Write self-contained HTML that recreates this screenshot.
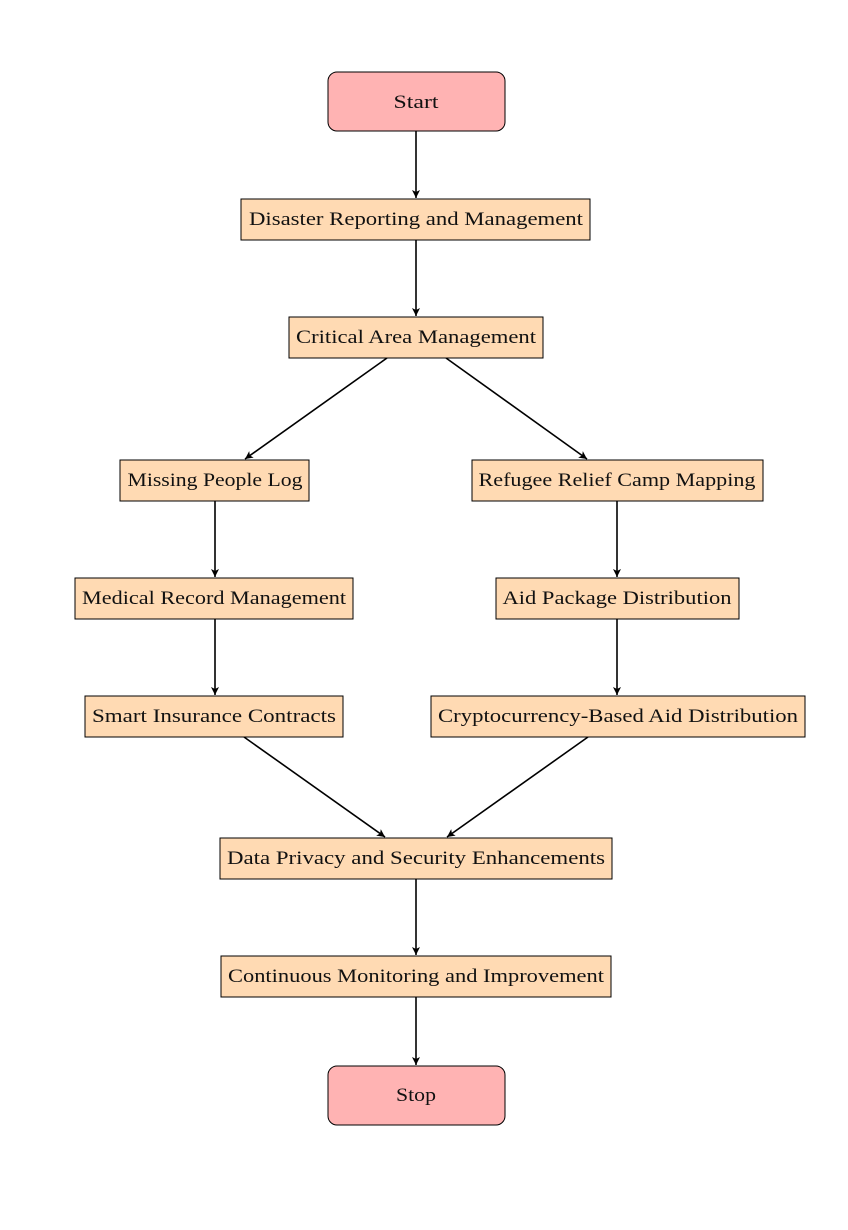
<!DOCTYPE html>
<html><head><meta charset="utf-8"><style>body{margin:0;background:#fff}svg{display:block}</style></head>
<body>
<svg width="848" height="1230" viewBox="0 0 848 1230" xmlns="http://www.w3.org/2000/svg" font-family="Liberation Serif, serif" font-size="19" text-anchor="middle">
<defs><marker id="a" markerWidth="10" markerHeight="10" refX="8" refY="4" orient="auto" markerUnits="userSpaceOnUse"><path d="M0,0 L8,4 L0,8 L2,4 Z" fill="#000"/></marker></defs>
<g stroke="#000" stroke-width="1.6" fill="none" marker-end="url(#a)">
<line x1="416" y1="131" x2="416" y2="198"/>
<line x1="416" y1="240" x2="416" y2="316"/>
<line x1="387" y1="358" x2="245" y2="459"/>
<line x1="446" y1="358" x2="587" y2="459"/>
<line x1="215" y1="501" x2="215" y2="577"/>
<line x1="617" y1="501" x2="617" y2="577"/>
<line x1="215" y1="619" x2="215" y2="695"/>
<line x1="617" y1="619" x2="617" y2="695"/>
<line x1="244" y1="737" x2="385" y2="837"/>
<line x1="588" y1="737" x2="447" y2="837"/>
<line x1="416" y1="879" x2="416" y2="955"/>
<line x1="416" y1="997" x2="416" y2="1065"/>
</g>
<g stroke="#000" stroke-width="1">
<rect x="328" y="72" width="177" height="59" rx="9" fill="#ffb3b3"/>
<rect x="328" y="1066" width="177" height="59" rx="9" fill="#ffb3b3"/>
<g fill="#ffdab3">
<rect x="241" y="199" width="349" height="41"/>
<rect x="289" y="317" width="254" height="41"/>
<rect x="120" y="460" width="189" height="41"/>
<rect x="472" y="460" width="291" height="41"/>
<rect x="75" y="578" width="278" height="41"/>
<rect x="496" y="578" width="243" height="41"/>
<rect x="85" y="696" width="258" height="41"/>
<rect x="431" y="696" width="374" height="41"/>
<rect x="220" y="838" width="392" height="41"/>
<rect x="221" y="956" width="390" height="41"/>
</g></g>
<g fill="#111" lengthAdjust="spacingAndGlyphs">
<text x="416" y="108" textLength="45" lengthAdjust="spacingAndGlyphs">Start</text>
<text x="416" y="225" textLength="334" lengthAdjust="spacingAndGlyphs">Disaster Reporting and Management</text>
<text x="416" y="343" textLength="240" lengthAdjust="spacingAndGlyphs">Critical Area Management</text>
<text x="215" y="486" textLength="175" lengthAdjust="spacingAndGlyphs">Missing People Log</text>
<text x="617" y="486" textLength="277" lengthAdjust="spacingAndGlyphs">Refugee Relief Camp Mapping</text>
<text x="214" y="604" textLength="264" lengthAdjust="spacingAndGlyphs">Medical Record Management</text>
<text x="617" y="604" textLength="229" lengthAdjust="spacingAndGlyphs">Aid Package Distribution</text>
<text x="214" y="722" textLength="244" lengthAdjust="spacingAndGlyphs">Smart Insurance Contracts</text>
<text x="618" y="722" textLength="360" lengthAdjust="spacingAndGlyphs">Cryptocurrency-Based Aid Distribution</text>
<text x="416" y="864" textLength="378" lengthAdjust="spacingAndGlyphs">Data Privacy and Security Enhancements</text>
<text x="416" y="982" textLength="376" lengthAdjust="spacingAndGlyphs">Continuous Monitoring and Improvement</text>
<text x="416" y="1101" textLength="40" lengthAdjust="spacingAndGlyphs">Stop</text>
</g>
</svg>
</body></html>
